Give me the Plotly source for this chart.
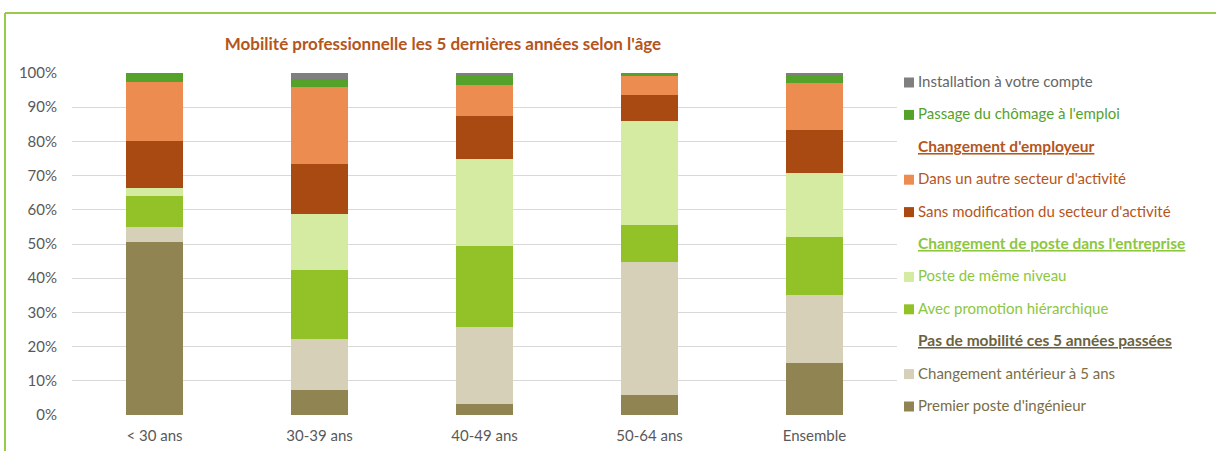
import plotly.graph_objects as go

categories = ["< 30 ans", "30-39 ans", "40-49 ans", "50-64 ans", "Ensemble"]

# stacked from bottom to top
series_names = [
    "Premier poste d'ingénieur",
    "Changement antérieur à 5 ans",
    "Avec promotion hiérarchique",
    "Poste de même niveau",
    "Sans modification du secteur d'activité",
    "Dans un autre secteur d'activité",
    "Passage du chômage à l'emploi",
    "Installation à votre compte",
]
premier = [50.5, 7.3, 3.3, 5.9, 15.3]
anterieur = [4.5, 14.8, 22.5, 38.8, 19.8]
promotion = [9.0, 20.3, 23.7, 11.0, 17.0]
meme_niveau = [2.4, 16.5, 25.3, 30.2, 18.8]
sans_modif = [13.7, 14.6, 12.6, 7.7, 12.4]
autre_secteur = [17.2, 22.5, 9.0, 5.5, 13.8]
chomage = [2.7, 2.2, 2.9, 0.9, 2.2]
installation = [0.0, 1.8, 0.7, 0.0, 0.7]
series_values = [premier, anterieur, promotion, meme_niveau, sans_modif,
                 autre_secteur, chomage, installation]

series_colors = ["#908453", "#D6D0B8", "#92C128", "#D5EBA2",
                 "#A84A11", "#ED8C50", "#55A22A", "#7F7F7F"]
legend_text_colors = ["#7A6E47", "#7A6E47", "#8DC63F", "#8DC63F",
                      "#B5551B", "#B5551B", "#55A22A", "#666666"]

group_headers = ["Pas de mobilité ces 5 années passées",
                 "Changement de poste dans l'entreprise",
                 "Changement d'employeur"]
header_colors = ["#6B6240", "#8DC63F", "#B5551B"]

title_text = "Mobilité professionnelle les 5 dernières années selon l'âge"
y_ticks = [0, 10, 20, 30, 40, 50, 60, 70, 80, 90, 100]
y_tick_labels = [f"{v}%" for v in y_ticks]

FONT = "Lato"
W, H = 1216, 451
L, R, T, B = 72, 319, 73, 36
PW, PH = W - L - R, H - T - B


def px_x(p):
    return (p - L) / PW


def px_y(p):
    return (H - B - p) / PH


fig = go.Figure()
for name, vals, col in zip(series_names, series_values, series_colors):
    fig.add_trace(go.Bar(x=categories, y=vals, name=name,
                         marker=dict(color=col, line=dict(width=0)),
                         showlegend=False))

fig.update_layout(
    width=W, height=H,
    barmode="stack", bargap=0.65,
    margin=dict(l=L, r=R, t=T, b=B, autoexpand=False),
    paper_bgcolor="white", plot_bgcolor="white",
    font=dict(family=FONT, size=15, color="#595959"),
    title=dict(text="<b>" + title_text + "</b>", x=px_x(443), xref="paper",
               xanchor="center", y=1 - 44 / H, yanchor="middle",
               font=dict(family=FONT, size=17, color="#B5551B")),
    xaxis=dict(showgrid=False, showline=False, ticks="",
               ticklabelstandoff=10, automargin=False,
               tickfont=dict(size=15, color="#595959")),
    yaxis=dict(range=[0, 100], tickvals=y_ticks, ticktext=y_tick_labels,
               showgrid=True, gridcolor="#D9D9D9", gridwidth=1,
               zeroline=False, showline=False, ticks="",
               ticklabelstandoff=14, automargin=False,
               tickfont=dict(size=15, color="#595959")),
)

# legend (custom, with interleaved group headers)
rows = [
    ("item", 7), ("item", 6), ("head", 2), ("item", 5), ("item", 4),
    ("head", 1), ("item", 3), ("item", 2), ("head", 0), ("item", 1),
    ("item", 0),
]
row_y0, row_dy = 81.0, 32.4
for i, (kind, idx) in enumerate(rows):
    yc = row_y0 + i * row_dy
    if kind == "item":
        fig.add_shape(type="rect", xref="paper", yref="paper",
                      x0=px_x(904), x1=px_x(914),
                      y0=px_y(yc + 6.5), y1=px_y(yc - 3.5),
                      fillcolor=series_colors[idx], line=dict(width=0))
        fig.add_annotation(xref="paper", yref="paper", x=px_x(916),
                           y=px_y(yc), xanchor="left", yanchor="middle",
                           showarrow=False, text=series_names[idx],
                           font=dict(family=FONT, size=15,
                                     color=legend_text_colors[idx]))
    else:
        fig.add_annotation(xref="paper", yref="paper", x=px_x(916),
                           y=px_y(yc), xanchor="left", yanchor="middle",
                           showarrow=False,
                           text="<span style='text-decoration:underline'><b>"
                                + group_headers[idx] + "</b></span>",
                           font=dict(family=FONT, size=15.5,
                                     color=header_colors[idx]))

# green frame
fig.add_shape(type="line", xref="paper", yref="paper",
              x0=px_x(5), x1=px_x(1216), y0=px_y(13), y1=px_y(13),
              line=dict(color="#9ACA4C", width=2))
fig.add_shape(type="line", xref="paper", yref="paper",
              x0=px_x(5), x1=px_x(5), y0=px_y(13), y1=px_y(451),
              line=dict(color="#9ACA4C", width=2))

fig.write_html("out.html",
               config={"displayModeBar": False},
               post_script="document.body.style.margin='0';"
                           "document.body.style.overflow='hidden';")
